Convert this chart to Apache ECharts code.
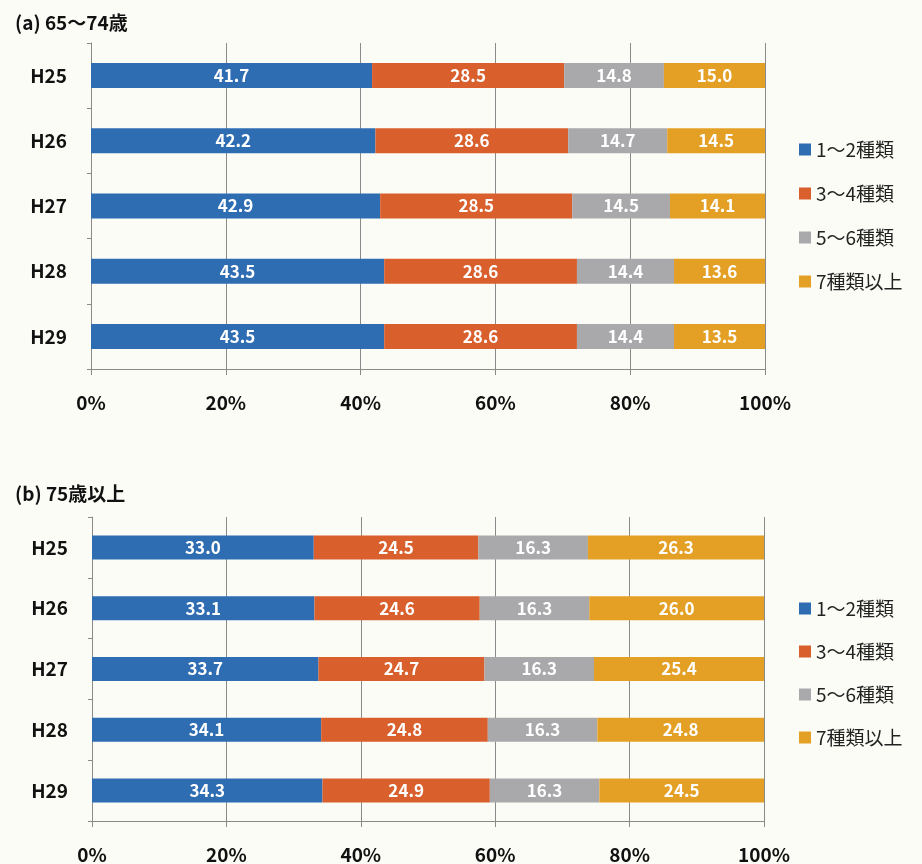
<!DOCTYPE html>
<html>
<head>
<meta charset="utf-8">
<script src="https://cdn.jsdelivr.net/npm/echarts@6/dist/echarts.min.js"></script>
<style>
  html, body { margin: 0; padding: 0; background: #fcfcf7; }
  #main { width: 922px; height: 864px; }
</style>
</head>
<body>
<div id="main"></div>
<script>
var years = ['H25', 'H26', 'H27', 'H28', 'H29'];
var kinds = ['1～2種類', '3～4種類', '5～6種類', '7種類以上'];
var colors = ['#2f6db3', '#d95f2d', '#a9a9ab', '#e4a024'];
var xTicks = ['0%', '20%', '40%', '60%', '80%', '100%'];

// (a) 65～74歳
var a12 = [41.7, 42.2, 42.9, 43.5, 43.5];
var a34 = [28.5, 28.6, 28.5, 28.6, 28.6];
var a56 = [14.8, 14.7, 14.5, 14.4, 14.4];
var a7 = [15.0, 14.5, 14.1, 13.6, 13.5];

// (b) 75歳以上
var b12 = [33.0, 33.1, 33.7, 34.1, 34.3];
var b34 = [24.5, 24.6, 24.7, 24.8, 24.9];
var b56 = [16.3, 16.3, 16.3, 16.3, 16.3];
var b7 = [26.3, 26.0, 25.4, 24.8, 24.5];

var font = "'Noto Sans CJK JP', 'Noto Sans', sans-serif";
var myChart = echarts.init(document.getElementById('main'));

function xAxisOf(idx) {
  return {
    type: 'value', gridIndex: idx, min: 0, max: 100, interval: 20,
    axisLine: { show: true, lineStyle: { color: '#8a8a8a' } },
    axisTick: { show: true, length: 6, lineStyle: { color: '#8a8a8a' } },
    splitLine: { show: true, lineStyle: { color: '#8a8a8a', width: 1 } },
    axisLabel: {
      margin: 24, color: '#111', fontSize: 19, fontWeight: 'bold', fontFamily: font,
      formatter: function (v) { return xTicks[v / 20]; }
    }
  };
}

function yAxisOf(idx) {
  return {
    type: 'category', gridIndex: idx, data: years, inverse: true,
    axisLine: { show: true, lineStyle: { color: '#8a8a8a' } },
    axisTick: { show: true, length: 4, lineStyle: { color: '#8a8a8a' } },
    axisLabel: { margin: 24, color: '#111', fontSize: 19, fontWeight: 'bold', fontFamily: font }
  };
}

function seriesOf(idx, lists, barWidth) {
  return lists.map(function (d, i) {
    return {
      name: kinds[i], type: 'bar', stack: 's' + idx,
      xAxisIndex: idx, yAxisIndex: idx,
      barWidth: barWidth, data: d,
      itemStyle: { color: colors[i] },
      label: {
        show: true, position: 'inside', color: '#fff', fontSize: 17,
        fontWeight: 'bold', fontFamily: font,
        formatter: function (p) { return p.value.toFixed(1); }
      }
    };
  });
}

function legendOf(top, gap) {
  return {
    data: kinds, orient: 'vertical', left: 794, top: top,
    itemWidth: 12, itemHeight: 12, itemGap: gap, icon: 'rect',
    textStyle: { fontSize: 19, color: '#222', fontFamily: font }
  };
}

var option = {
  backgroundColor: '#fcfcf7',
  animation: false,
  title: [
    { text: '(a) 65～74歳', left: 10, top: 8, textStyle: { fontSize: 19, fontWeight: 'bold', color: '#111', fontFamily: font } },
    { text: '(b) 75歳以上', left: 10, top: 479, textStyle: { fontSize: 19, fontWeight: 'bold', color: '#111', fontFamily: font } }
  ],
  legend: [legendOf(135, 25), legendOf(594, 24)],
  grid: [
    { left: 91, top: 43, width: 674, height: 326 },
    { left: 92, top: 517, width: 672, height: 305 }
  ],
  xAxis: [xAxisOf(0), xAxisOf(1)],
  yAxis: [yAxisOf(0), yAxisOf(1)],
  series: seriesOf(0, [a12, a34, a56, a7], 25).concat(seriesOf(1, [b12, b34, b56, b7], 24))
};

option && myChart.setOption(option);
</script>
</body>
</html>
